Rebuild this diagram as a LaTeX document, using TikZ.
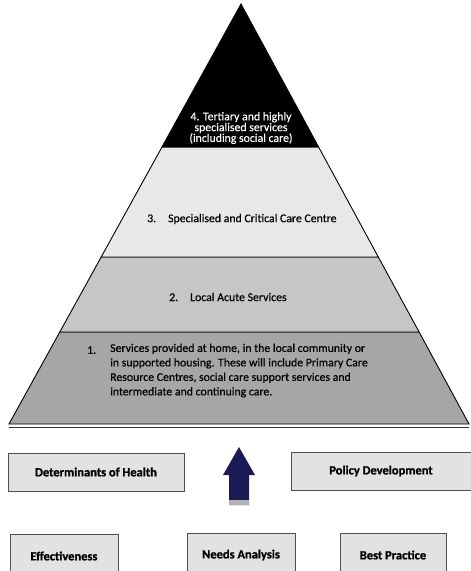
\documentclass[tikz,border=0pt]{standalone}
\usepackage{fontspec}
\setmainfont{Carlito}
\definecolor{layerthree}{HTML}{E8E8E8}
\definecolor{layertwo}{HTML}{C6C6C6}
\definecolor{layerone}{HTML}{A6A6A6}
\definecolor{boxfill}{HTML}{E2E2E2}
\definecolor{boxline}{HTML}{505050}
\definecolor{navy}{HTML}{1C1A55}
\tikzset{
  layer/.style={draw=black, line width=0.9pt, line join=miter},
  layertext/.style={font=\fontsize{11.8}{14.5}\selectfont\addfontfeature{FakeBold=0.4}, align=left, inner sep=0pt},
  infobox/.style={draw=boxline, line width=0.9pt, fill=boxfill, minimum height=38pt,
    font=\fontsize{12.5}{13}\selectfont\bfseries\addfontfeature{FakeBold=1.2}, inner sep=0pt},
}
\begin{document}
\begin{tikzpicture}[x=1pt,y=-1pt]
\useasboundingbox (0,0) rectangle (471,571);
\clip (0,0) rectangle (471,571);
% pyramid corners
\coordinate (apex) at (241,4);
\coordinate (bl) at (9,424);
\coordinate (br) at (469,424);
% layer boundaries
\coordinate (l4L) at (162,147);
\coordinate (l4R) at (318.6,147);
\coordinate (l3L) at (101.2,257);
\coordinate (l3R) at (378.3,257);
\coordinate (l2L) at (59.8,332);
\coordinate (l2R) at (419.1,332);
% layers
\draw[layer, fill=layerone] (l2L) -- (l2R) -- (br) -- (bl) -- cycle;
\draw[layer, fill=layertwo] (l3L) -- (l3R) -- (l2R) -- (l2L) -- cycle;
\draw[layer, fill=layerthree] (l4L) -- (l4R) -- (l3R) -- (l3L) -- cycle;
\draw[layer, fill=black] (apex) -- (l4R) -- (l4L) -- cycle;
\draw[line width=0.6pt, draw=black!80] (bl) ++(0,3) -- ++(460,0);
% layer texts
\node[layertext, text=white, align=center, font=\fontsize{11.8}{10.8}\selectfont\addfontfeature{FakeBold=0.4}] (t4) at (241,128)
  {4. Tertiary and highly\\specialised services\\(including social care)};
\node[layertext, anchor=west] (t3) at (147,219) {3.\hspace{12pt}Specialised and Critical Care Centre};
\node[layertext, anchor=west] (t2) at (169,297) {2.\hspace{12pt}Local Acute Services};
\node[layertext, anchor=west] (t1num) at (87,350) {1.};
\node[layertext, anchor=north west] (t1) at (110,343.5)
  {Services provided at home, in the local community or\\
   in supported housing.  These will include Primary Care\\
   Resource Centres, social care support services and\\
   intermediate and continuing care.};
% boxes
\node[infobox, minimum width=176pt] (det) at (96,472) {Determinants of Health};
\node[infobox, minimum width=180pt] (pol) at (381,471) {Policy Development};
\node[infobox, minimum width=108pt, minimum height=44pt] (eff) at (64,556) {\raisebox{-2pt}{Effectiveness}};
\node[infobox, minimum width=108pt, minimum height=44pt] (need) at (241,555) {\raisebox{-2pt}{Needs Analysis}};
\node[infobox, minimum width=106pt, minimum height=44pt] (best) at (393,555) {\raisebox{-2pt}{Best Practice}};
% arrow
\coordinate (arrowtip) at (239,447);
\fill[navy] (arrowtip) -- (255,475) -- (249,475) -- (249,505) -- (229,505) -- (229,475) -- (223,475) -- cycle;
\fill[gray!60] (229,500) rectangle (249,505);
\end{tikzpicture}
\end{document}
